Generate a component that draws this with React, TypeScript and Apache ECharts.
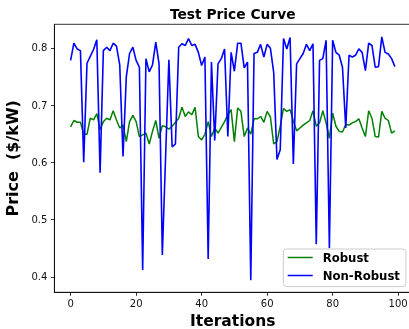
import React, { useEffect, useRef } from "react";
import * as echarts from "echarts";

const robust = [
  0.662, 0.673, 0.670, 0.670, 0.649, 0.649, 0.677, 0.674, 0.685, 0.657,
  0.671, 0.677, 0.674, 0.690, 0.674, 0.660, 0.665, 0.636, 0.671, 0.682,
  0.671, 0.645, 0.648, 0.651, 0.632, 0.654, 0.673, 0.642, 0.664, 0.662,
  0.658, 0.663, 0.670, 0.677, 0.696, 0.680, 0.688, 0.683, 0.696, 0.645,
  0.639, 0.649, 0.671, 0.645, 0.660, 0.651, 0.661, 0.671, 0.683, 0.692,
  0.636, 0.695, 0.689, 0.645, 0.660, 0.649, 0.676, 0.676, 0.680, 0.670,
  0.689, 0.679, 0.632, 0.636, 0.663, 0.694, 0.689, 0.692, 0.672, 0.655,
  0.660, 0.665, 0.669, 0.673, 0.690, 0.663, 0.669, 0.690, 0.669, 0.642,
  0.686, 0.663, 0.654, 0.653, 0.666, 0.665, 0.669, 0.671, 0.676, 0.660,
  0.645, 0.690, 0.677, 0.645, 0.644, 0.689, 0.677, 0.673, 0.651, 0.655,
];

const nonRobust = [
  0.778, 0.808, 0.798, 0.795, 0.600, 0.773, 0.785, 0.797, 0.814, 0.582,
  0.795, 0.801, 0.795, 0.808, 0.803, 0.770, 0.610, 0.749, 0.790, 0.801,
  0.778, 0.766, 0.412, 0.781, 0.758, 0.770, 0.810, 0.772, 0.438, 0.610,
  0.779, 0.627, 0.632, 0.801, 0.807, 0.804, 0.816, 0.804, 0.806, 0.792,
  0.769, 0.784, 0.431, 0.775, 0.638, 0.772, 0.781, 0.798, 0.645, 0.792,
  0.759, 0.808, 0.808, 0.765, 0.775, 0.394, 0.790, 0.792, 0.806, 0.784,
  0.806, 0.799, 0.757, 0.605, 0.622, 0.816, 0.798, 0.818, 0.597, 0.772,
  0.781, 0.790, 0.806, 0.795, 0.807, 0.457, 0.778, 0.781, 0.813, 0.450,
  0.813, 0.792, 0.787, 0.766, 0.660, 0.787, 0.784, 0.787, 0.798, 0.792,
  0.760, 0.808, 0.804, 0.766, 0.767, 0.819, 0.792, 0.789, 0.781, 0.767,
];

const seriesNames = ["Robust", "Non-Robust"];
const xTicks = [0, 20, 40, 60, 80, 100];
const yTicks = [0.4, 0.5, 0.6, 0.7, 0.8];

export default function App() {
  const ref = useRef<HTMLDivElement>(null);
  useEffect(() => {
    const chart = echarts.init(ref.current!, null, { renderer: "svg" });
    const font = "DejaVu Sans";
    const legendIcon = "path://M0,0H100V6H0Z";
    chart.setOption({
      animation: false,
      title: {
        text: "Test Price Curve",
        left: 232.7,
        top: 14,
        textAlign: "center",
        textVerticalAlign: "middle",
        padding: 0,
        textStyle: { fontFamily: font, fontWeight: "bold", fontSize: 13.8, color: "#000" },
      },
      grid: {
        left: 54.4,
        top: 24.3,
        width: 356.7,
        height: 268,
        outerBoundsMode: "none",
        containLabel: false,
        show: true,
        borderColor: "#000",
        borderWidth: 0.8,
        backgroundColor: "transparent",
      },
      legend: {
        orient: "vertical",
        left: 283.3,
        top: 249,
        data: seriesNames.map((n) => ({ name: n, icon: legendIcon })),
        symbolKeepAspect: true,
        itemWidth: 25,
        itemHeight: 14,
        itemGap: 6,
        padding: [2.5, 6, 5, 4.4],
        backgroundColor: "rgba(255,255,255,0.8)",
        borderColor: "#cccccc",
        borderWidth: 1,
        borderRadius: 3,
        textStyle: { fontFamily: font, fontWeight: "bold", fontSize: 11.7, color: "#000", padding: [0, 0, 0, 5] },
      },
      xAxis: {
        type: "value",
        min: -4.95,
        max: 103.95,
        name: "Iterations",
        nameLocation: "middle",
        nameGap: 19,
        nameTextStyle: { fontFamily: font, fontWeight: "bold", fontSize: 15.5, lineHeight: 15, color: "#000" },
        axisLine: { show: true, onZero: false, lineStyle: { color: "#000", width: 0.8 } },
        axisTick: { show: true, inside: false, length: 3.5, customValues: xTicks, lineStyle: { color: "#000", width: 0.8 } },
        axisLabel: { customValues: xTicks, margin: 6, fontFamily: font, fontSize: 10, color: "#111" },
        splitLine: { show: false },
      },
      yAxis: {
        type: "value",
        min: 0.373,
        max: 0.841,
        name: "Price  ($/kW)",
        nameLocation: "middle",
        nameGap: 19,
        nameTextStyle: { fontFamily: font, fontWeight: "bold", fontSize: 16, lineHeight: 16, color: "#000" },
        axisLine: { show: true, onZero: false, lineStyle: { color: "#000", width: 0.8 } },
        axisTick: { show: true, inside: false, length: 3.5, customValues: yTicks, lineStyle: { color: "#000", width: 0.8 } },
        axisLabel: { customValues: yTicks, margin: 7, fontFamily: font, fontSize: 10, color: "#111", formatter: (v: number) => v.toFixed(1) },
        splitLine: { show: false },
      },
      series: [
        {
          name: seriesNames[0],
          type: "line",
          data: robust.map((v, i) => [i, v]),
          symbol: "none",
          lineStyle: { color: "#008000", width: 1.5 },
          itemStyle: { color: "#008000" },
        },
        {
          name: seriesNames[1],
          type: "line",
          data: nonRobust.map((v, i) => [i, v]),
          symbol: "none",
          lineStyle: { color: "#0000ff", width: 1.6 },
          itemStyle: { color: "#0000ff" },
        },
      ],
    });
    return () => chart.dispose();
  }, []);
  return <div ref={ref} style={{ position: "fixed", left: 0, top: 0, width: 409, height: 329 }} />;
}
